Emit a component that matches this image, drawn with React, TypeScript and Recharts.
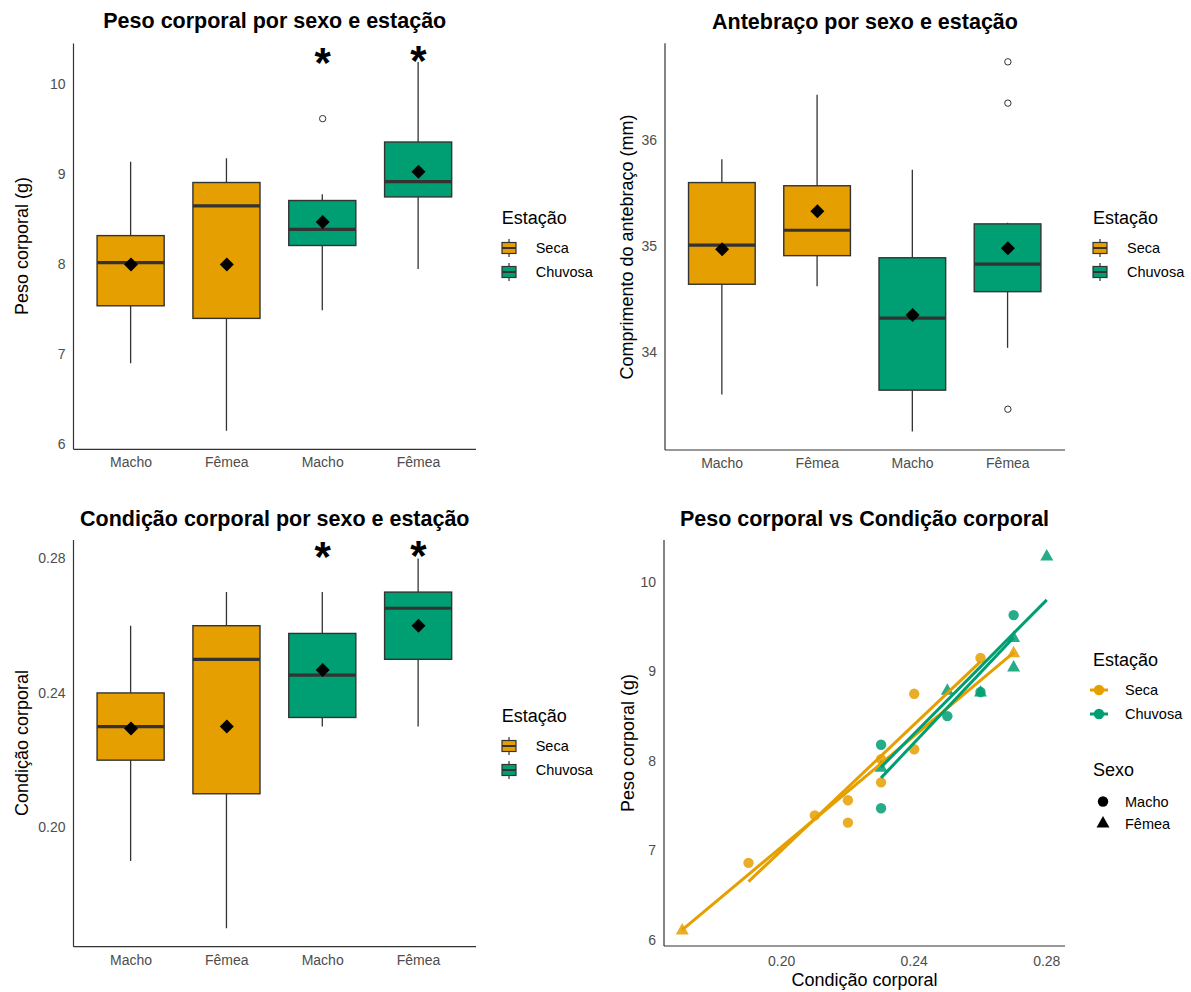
import React from 'react';
import { ComposedChart, ScatterChart, Bar, Scatter, XAxis, YAxis } from 'recharts';

const SECA = '#E69F00';
const CHUVOSA = '#009E73';
const CONTORNO = '#333333';
const COR_TICK = '#4D4D4D';
const FONTE = '"Liberation Sans", Arial, Helvetica, sans-serif';

// grupos do eixo x (sexo · estação)
const grupos = ['Macho·Seca', 'Fêmea·Seca', 'Macho·Chuvosa', 'Fêmea·Chuvosa'];
const estacaoGrupo = ['Seca', 'Seca', 'Chuvosa', 'Chuvosa'];

// Peso corporal (g)
const pesoMin = [6.9, 6.15, 7.49, 7.95];
const pesoQ1 = [7.54, 7.4, 8.21, 8.75];
const pesoMediana = [8.02, 8.65, 8.39, 8.92];
const pesoQ3 = [8.32, 8.91, 8.71, 9.36];
const pesoMax = [9.14, 9.18, 8.78, 10.25];
const pesoMedia = [8.0, 8.0, 8.47, 9.03];
const pesoAtipicosGrupo = ['Macho·Chuvosa'];
const pesoAtipicosValor = [9.62];
const pesoSignifGrupo = ['Macho·Chuvosa', 'Fêmea·Chuvosa'];
const pesoSignifValor = [10.35, 10.37];
const pesoTicks = [6, 7, 8, 9, 10];

// Antebraço (mm)
const anteMin = [33.6, 34.62, 33.25, 34.04];
const anteQ1 = [34.64, 34.91, 33.64, 34.57];
const anteMediana = [35.01, 35.15, 34.32, 34.83];
const anteQ3 = [35.6, 35.57, 34.89, 35.21];
const anteMax = [35.82, 36.43, 35.72, 35.22];
const anteMedia = [34.97, 35.33, 34.35, 34.98];
const anteAtipicosGrupo = ['Fêmea·Chuvosa', 'Fêmea·Chuvosa', 'Fêmea·Chuvosa'];
const anteAtipicosValor = [36.74, 36.35, 33.46];
const anteTicks = [34, 35, 36];

// Condição corporal
const condMin = [0.19, 0.17, 0.23, 0.23];
const condQ1 = [0.22, 0.21, 0.2327, 0.25];
const condMediana = [0.23, 0.25, 0.2453, 0.2652];
const condQ3 = [0.24, 0.26, 0.2577, 0.27];
const condMax = [0.26, 0.27, 0.27, 0.28];
const condMedia = [0.2294, 0.23, 0.2468, 0.26];
const condSignifGrupo = ['Macho·Chuvosa', 'Fêmea·Chuvosa'];
const condSignifValor = [0.2833, 0.2838];
const condTicks = [0.2, 0.24, 0.28];

// Dispersão: peso vs condição
const secaMachoX = [0.19, 0.21, 0.22, 0.22, 0.23, 0.23, 0.24, 0.24, 0.26];
const secaMachoY = [6.86, 7.39, 7.56, 7.31, 8.02, 7.76, 8.75, 8.13, 9.15];
const secaFemeaX = [0.17, 0.27];
const secaFemeaY = [6.11, 9.21];
const chuvosaMachoX = [0.23, 0.23, 0.25, 0.26, 0.27];
const chuvosaMachoY = [8.18, 7.47, 8.5, 8.77, 9.63];
const chuvosaFemeaX = [0.23, 0.25, 0.26, 0.27, 0.27, 0.28];
const chuvosaFemeaY = [7.93, 8.79, 8.77, 9.38, 9.05, 10.29];

// retas de tendência (extremos)
const retaSecaMachoX = [0.19, 0.26];
const retaSecaMachoY = [6.65, 9.11];
const retaSecaFemeaX = [0.17, 0.27];
const retaSecaFemeaY = [6.11, 9.21];
const retaChuvosaMachoX = [0.23, 0.27];
const retaChuvosaMachoY = [7.81, 9.38];
const retaChuvosaFemeaX = [0.23, 0.28];
const retaChuvosaFemeaY = [7.93, 9.8];

const dispTicksX = [0.2, 0.24, 0.28];
const dispTicksY = [6, 7, 8, 9, 10];

function montarLinhas(min: number[], q1: number[], med: number[], q3: number[], max: number[], media: number[]) {
  return grupos.map((g, i) => ({
    grupo: g,
    estacao: estacaoGrupo[i],
    faixa: [min[i], max[i]],
    min: min[i],
    q1: q1[i],
    mediana: med[i],
    q3: q3[i],
    max: max[i],
    media: media[i],
  }));
}

function pares(gs: string[], vs: number[]) {
  return gs.map((g, i) => ({ grupo: g, valor: vs[i] }));
}

function pontos(xs: number[], ys: number[]) {
  return xs.map((x, i) => ({ x, y: ys[i] }));
}

// caixa + bigodes + mediana, a partir da barra [min, max]
function Caixa(props: any) {
  const { x, y, width, height, payload } = props;
  if (!payload || !isFinite(y) || !isFinite(height)) return <g />;
  const topo = Math.min(y, y + height);
  const h = Math.abs(height);
  const span = payload.max - payload.min;
  const py = (v: number) => topo + ((payload.max - v) / span) * h;
  const cx = x + width / 2;
  const fill = payload.estacao === 'Seca' ? SECA : CHUVOSA;
  return (
    <g>
      <line x1={cx} x2={cx} y1={py(payload.max)} y2={py(payload.q3)} stroke={CONTORNO} strokeWidth={1.3} />
      <line x1={cx} x2={cx} y1={py(payload.q1)} y2={py(payload.min)} stroke={CONTORNO} strokeWidth={1.3} />
      <rect x={x} y={py(payload.q3)} width={width} height={py(payload.q1) - py(payload.q3)} fill={fill} stroke={CONTORNO} strokeWidth={1.4} />
      <line x1={x} x2={x + width} y1={py(payload.mediana)} y2={py(payload.mediana)} stroke={CONTORNO} strokeWidth={3.2} />
    </g>
  );
}

const Losango = (p: any) => (
  <polygon points={`${p.cx},${p.cy - 7} ${p.cx + 7},${p.cy} ${p.cx},${p.cy + 7} ${p.cx - 7},${p.cy}`} fill="#000" />
);

const Atipico = (p: any) => <circle cx={p.cx} cy={p.cy} r={3.2} fill="#fff" stroke={CONTORNO} strokeWidth={1} />;

const Asterisco = (p: any) => (
  <text x={p.cx} y={p.cy + 24} textAnchor="middle" fontFamily={FONTE} fontWeight={700} fontSize={42} fill="#000">
    *
  </text>
);

const Vazio = () => <g />;

const circulo = (cor: string) => (p: any) => <circle cx={p.cx} cy={p.cy} r={5.2} fill={cor} fillOpacity={0.85} />;
const triangulo = (cor: string) => (p: any) => (
  <polygon
    points={`${p.cx},${p.cy - 7} ${p.cx - 6.5},${p.cy + 4.5} ${p.cx + 6.5},${p.cy + 4.5}`}
    fill={cor}
    fillOpacity={0.85}
  />
);

function Texto({ x, y, size, bold, anchor = 'start', rotate, color = '#000', children }: any) {
  const tx = anchor === 'middle' ? '-50%' : anchor === 'end' ? '-100%' : '0';
  return (
    <div
      style={{
        position: 'absolute',
        left: x,
        top: y,
        transform: rotate ? 'translate(-50%,-50%) rotate(-90deg)' : `translate(${tx},-50%)`,
        fontFamily: FONTE,
        fontSize: size,
        fontWeight: bold ? 700 : 400,
        color,
        whiteSpace: 'nowrap',
        lineHeight: 1,
      }}
    >
      {children}
    </div>
  );
}

function ChaveCaixa({ cor }: { cor: string }) {
  return (
    <svg width={18} height={20} style={{ display: 'block' }}>
      <line x1={9} x2={9} y1={1} y2={19} stroke={CONTORNO} strokeWidth={1.2} />
      <rect x={2} y={4.5} width={14} height={11} fill={cor} stroke={CONTORNO} strokeWidth={1.2} />
      <line x1={2} x2={16} y1={10} y2={10} stroke={CONTORNO} strokeWidth={2} />
    </svg>
  );
}

function LegendaCaixa({ x, y }: { x: number; y: number }) {
  const itens = [
    { nome: 'Seca', cor: SECA },
    { nome: 'Chuvosa', cor: CHUVOSA },
  ];
  return (
    <>
      <Texto x={x} y={y} size={18}>Estação</Texto>
      {itens.map((it, i) => (
        <React.Fragment key={it.nome}>
          <div style={{ position: 'absolute', left: x - 2, top: y + 29.5 + i * 24.4 - 10 }}>
            <ChaveCaixa cor={it.cor} />
          </div>
          <Texto x={x + 34} y={y + 29.5 + i * 24.4} size={14.5}>{it.nome}</Texto>
        </React.Fragment>
      ))}
    </>
  );
}

type Plot = { l: number; r: number; t: number; b: number };

function PainelCaixa(props: {
  left: number;
  top: number;
  width: number;
  height: number;
  plot: Plot;
  titulo: string;
  tituloY: number;
  rotuloY: string;
  rotuloYX: number;
  linhas: any[];
  dominio: [number, number];
  ticks: number[];
  formato: (v: number) => string;
  atipicos: any[];
  signif: any[];
  legendaX: number;
  legendaY: number;
}) {
  const { left, top, width, height, plot } = props;
  const u = (plot.r - plot.l) / 4.2;
  const alturaX = 30;
  const margin = {
    top: plot.t - top,
    right: left + width - plot.r,
    bottom: top + height - plot.b - alturaX,
    left: 0,
  };
  const eixo = { stroke: CONTORNO, strokeWidth: 1.2 };
  const tick = { fill: COR_TICK, fontSize: 14, fontFamily: FONTE };
  return (
    <>
      <div style={{ position: 'absolute', left, top, width, height }}>
        <ComposedChart width={width} height={height} data={props.linhas} margin={margin}>
          <XAxis
            dataKey="grupo"
            type="category"
            allowDuplicatedCategory={false}
            height={alturaX}
            tickLine={false}
            axisLine={eixo}
            tick={tick}
            interval={0}
            padding={{ left: u * 0.1, right: u * 0.1 }}
            tickFormatter={(g: any) => String(g).split('·')[0]}
          />
          <YAxis
            type="number"
            width={plot.l - left}
            domain={props.dominio}
            ticks={props.ticks}
            allowDataOverflow
            tickLine={false}
            axisLine={eixo}
            tick={tick}
            interval={0}
            tickFormatter={props.formato}
          />
          <Bar dataKey="faixa" barSize={u * 0.7} shape={(p: any) => <Caixa {...p} />} isAnimationActive={false} />
          <Scatter data={props.linhas} dataKey="media" shape={Losango} isAnimationActive={false} />
          {props.atipicos.length > 0 && (
            <Scatter data={props.atipicos} dataKey="valor" shape={Atipico} isAnimationActive={false} />
          )}
          {props.signif.length > 0 && (
            <Scatter data={props.signif} dataKey="valor" shape={Asterisco} isAnimationActive={false} />
          )}
        </ComposedChart>
      </div>
      <Texto x={(plot.l + plot.r) / 2} y={props.tituloY} size={21.5} bold anchor="middle">
        {props.titulo}
      </Texto>
      <Texto x={props.rotuloYX} y={(plot.t + plot.b) / 2} size={18} rotate>
        {props.rotuloY}
      </Texto>
      <LegendaCaixa x={props.legendaX} y={props.legendaY} />
    </>
  );
}

function PainelDispersao() {
  const left = 595;
  const top = 496;
  const width = 596;
  const height = 496;
  const plot: Plot = { l: 664, r: 1065, t: 540, b: 946 };
  const alturaX = 30;
  const margin = {
    top: plot.t - top,
    right: left + width - plot.r,
    bottom: top + height - plot.b - alturaX,
    left: 0,
  };
  const eixo = { stroke: CONTORNO, strokeWidth: 1.2 };
  const tick = { fill: COR_TICK, fontSize: 14, fontFamily: FONTE };
  const retas = [
    { xs: retaSecaMachoX, ys: retaSecaMachoY, cor: SECA },
    { xs: retaSecaFemeaX, ys: retaSecaFemeaY, cor: SECA },
    { xs: retaChuvosaMachoX, ys: retaChuvosaMachoY, cor: CHUVOSA },
    { xs: retaChuvosaFemeaX, ys: retaChuvosaFemeaY, cor: CHUVOSA },
  ];
  return (
    <>
      <div style={{ position: 'absolute', left, top, width, height }}>
        <ScatterChart width={width} height={height} margin={margin}>
          <XAxis
            type="number"
            dataKey="x"
            domain={[0.1645, 0.2855]}
            ticks={dispTicksX}
            allowDataOverflow
            height={alturaX}
            tickLine={false}
            axisLine={eixo}
            tick={tick}
            tickMargin={4}
            interval={0}
            tickFormatter={(v: number) => v.toFixed(2)}
          />
          <YAxis
            type="number"
            dataKey="y"
            width={plot.l - left}
            domain={[5.93, 10.47]}
            ticks={dispTicksY}
            allowDataOverflow
            tickLine={false}
            axisLine={eixo}
            tick={tick}
            interval={0}
          />
          <Scatter data={pontos(secaMachoX, secaMachoY)} shape={circulo(SECA)} isAnimationActive={false} />
          <Scatter data={pontos(secaFemeaX, secaFemeaY)} shape={triangulo(SECA)} isAnimationActive={false} />
          <Scatter data={pontos(chuvosaMachoX, chuvosaMachoY)} shape={circulo(CHUVOSA)} isAnimationActive={false} />
          <Scatter data={pontos(chuvosaFemeaX, chuvosaFemeaY)} shape={triangulo(CHUVOSA)} isAnimationActive={false} />
          {retas.map((r, i) => (
            <Scatter
              key={i}
              data={pontos(r.xs, r.ys)}
              line={{ stroke: r.cor, strokeWidth: 3 }}
              shape={Vazio}
              isAnimationActive={false}
            />
          ))}
        </ScatterChart>
      </div>
      <Texto x={(plot.l + plot.r) / 2} y={520} size={21.5} bold anchor="middle">
        Peso corporal vs Condição corporal
      </Texto>
      <Texto x={628} y={(plot.t + plot.b) / 2} size={18} rotate>
        Peso corporal (g)
      </Texto>
      <Texto x={(plot.l + plot.r) / 2} y={980} size={18} anchor="middle">
        Condição corporal
      </Texto>
      {/* legenda Estação */}
      <Texto x={1093} y={660} size={18}>Estação</Texto>
      {[
        { nome: 'Seca', cor: SECA, y: 690 },
        { nome: 'Chuvosa', cor: CHUVOSA, y: 713.5 },
      ].map((it) => (
        <React.Fragment key={it.nome}>
          <svg style={{ position: 'absolute', left: 1089, top: it.y - 8 }} width={20} height={16}>
            <line x1={1} x2={19} y1={8} y2={8} stroke={it.cor} strokeWidth={3} />
            <circle cx={10} cy={8} r={5.2} fill={it.cor} />
          </svg>
          <Texto x={1125} y={it.y} size={14.5}>{it.nome}</Texto>
        </React.Fragment>
      ))}
      {/* legenda Sexo */}
      <Texto x={1093} y={770} size={18}>Sexo</Texto>
      <svg style={{ position: 'absolute', left: 1095, top: 793 }} width={16} height={40}>
        <circle cx={8} cy={8.5} r={5.2} fill="#000" />
        <polygon points="8,23 1.5,34.5 14.5,34.5" fill="#000" />
      </svg>
      <Texto x={1125} y={801.7} size={14.5}>Macho</Texto>
      <Texto x={1125} y={823.5} size={14.5}>Fêmea</Texto>
    </>
  );
}

export default function App() {
  const pesoLinhas = montarLinhas(pesoMin, pesoQ1, pesoMediana, pesoQ3, pesoMax, pesoMedia);
  const anteLinhas = montarLinhas(anteMin, anteQ1, anteMediana, anteQ3, anteMax, anteMedia);
  const condLinhas = montarLinhas(condMin, condQ1, condMediana, condQ3, condMax, condMedia);

  return (
    <div
      style={{
        position: 'absolute',
        left: 0,
        top: 0,
        width: 1191,
        height: 992,
        background: '#fff',
        overflow: 'hidden',
      }}
    >
      <PainelCaixa
        left={0}
        top={0}
        width={595}
        height={496}
        plot={{ l: 73.5, r: 476, t: 43.5, b: 449.3 }}
        titulo="Peso corporal por sexo e estação"
        tituloY={21.5}
        rotuloY="Peso corporal (g)"
        rotuloYX={22}
        linhas={pesoLinhas}
        dominio={[5.945, 10.455]}
        ticks={pesoTicks}
        formato={(v) => String(v)}
        atipicos={pares(pesoAtipicosGrupo, pesoAtipicosValor)}
        signif={pares(pesoSignifGrupo, pesoSignifValor)}
        legendaX={501.7}
        legendaY={218}
      />
      <PainelCaixa
        left={595}
        top={0}
        width={596}
        height={496}
        plot={{ l: 665, r: 1065, t: 43.3, b: 450 }}
        titulo="Antebraço por sexo e estação"
        tituloY={22.5}
        rotuloY="Comprimento do antebraço (mm)"
        rotuloYX={627}
        linhas={anteLinhas}
        dominio={[33.075, 36.915]}
        ticks={anteTicks}
        formato={(v) => String(v)}
        atipicos={pares(anteAtipicosGrupo, anteAtipicosValor)}
        signif={[]}
        legendaX={1093}
        legendaY={218}
      />
      <PainelCaixa
        left={0}
        top={496}
        width={595}
        height={496}
        plot={{ l: 73.5, r: 476, t: 540, b: 946.7 }}
        titulo="Condição corporal por sexo e estação"
        tituloY={520}
        rotuloY="Condição corporal"
        rotuloYX={22}
        linhas={condLinhas}
        dominio={[0.1645, 0.2855]}
        ticks={condTicks}
        formato={(v) => v.toFixed(2)}
        atipicos={[]}
        signif={pares(condSignifGrupo, condSignifValor)}
        legendaX={501.7}
        legendaY={716}
      />
      <PainelDispersao />
    </div>
  );
}
